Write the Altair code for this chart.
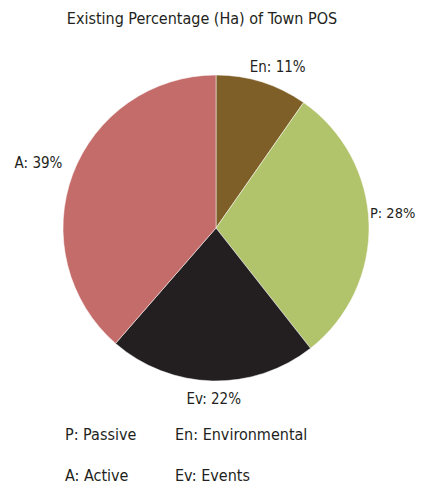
import altair as alt
import pandas as pd

# ---- data ----
codes = ["En", "P", "Ev", "A"]
values = [9.7, 29.7, 22.0, 38.6]          # slice sizes as drawn
pct_labels = ["11%", "28%", "22%", "39%"]  # printed percentages
colors = ["#7f5f28", "#b1c36b", "#231f20", "#c46c6a"]
legend_row1 = ["P: Passive", "En: Environmental"]
legend_row2 = ["A: Active", "Ev: Events"]
title_text = "Existing Percentage (Ha) of Town POS"

FONT = "DejaVu Sans Condensed, Liberation Sans Narrow, Roboto"
INK = "#231f20"
CX, CY, R = 208, 220, 153

df = pd.DataFrame({
    "code": codes,
    "value": values,
    "pct": pct_labels,
    "order": list(range(len(codes))),
})
df["label"] = df["code"] + ": " + df["pct"]

base = alt.Chart(df).encode(
    theta=alt.Theta("value:Q", stack=True),
    order=alt.Order("order:Q"),
    x=alt.value(CX),
    y=alt.value(CY),
)

pie = base.mark_arc(outerRadius=R, stroke="white", strokeWidth=0.5).encode(
    color=alt.Color("code:N", scale=alt.Scale(domain=codes, range=colors), legend=None)
)

# label placement per slice: (radius, align, dx, dy, size)
label_style = {
    "En": (169, "center", 11, 0, 15),
    "P": (157, "left", -3, -10, 14.5),
    "Ev": (171, "center", 2, 0, 15),
    "A": (164, "right", 0, -8, 15),
}
layers = [pie]
for code, (rad, al, ddx, ddy, fs) in label_style.items():
    layers.append(
        base.transform_calculate(
            txt=f"datum.code === '{code}' ? datum.label : ''"
        ).mark_text(
            radius=rad, align=al, baseline="middle", dx=ddx, dy=ddy,
            font=FONT, fontSize=fs, color=INK
        ).encode(text="txt:N")
    )

one = pd.DataFrame({"t": [title_text]})
layers.append(
    alt.Chart(one).mark_text(font=FONT, fontSize=16, color=INK, align="center",
                             baseline="alphabetic")
    .encode(text="t:N", x=alt.value(194), y=alt.value(16))
)

leg_pos = [(57, 432), (167, 432), (57, 473), (167, 473)]
leg_texts = legend_row1 + legend_row2
for (lx, ly), t in zip(leg_pos, leg_texts):
    layers.append(
        alt.Chart(pd.DataFrame({"t": [t]})).mark_text(
            font=FONT, fontSize=16, color=INK, align="left", baseline="alphabetic"
        ).encode(text="t:N", x=alt.value(lx), y=alt.value(ly))
    )

chart = alt.layer(*layers).properties(
    width=408, height=477, padding=0,
    autosize=alt.AutoSizeParams(type="none"),
).configure_view(stroke=None)

chart.save("out.html", embed_options={"renderer": "svg", "actions": False})
